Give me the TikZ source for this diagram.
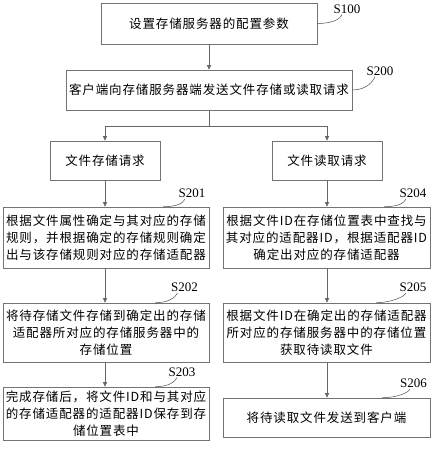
\documentclass[tikz,border=0pt]{standalone}
\usepackage{fontspec}
\setmainfont{Liberation Serif}
\newfontfamily\cjk[LetterSpace=7]{Noto Sans CJK SC}
\usetikzlibrary{arrows.meta}
\begin{document}
\begin{tikzpicture}[x=1pt,y=-1pt,
  box/.style={draw=black!55, line width=0.6pt, align=center, inner sep=0pt,
    font=\cjk\fontsize{12.5}{17}\selectfont},
  arr/.style={draw=black!60, line width=0.6pt, -{Triangle[length=4.5pt,width=4pt]}},
  plain/.style={draw=black!60, line width=0.6pt},
  lead/.style={draw=black!70, line width=0.5pt},
  lab/.style={font=\fontsize{13}{13}\selectfont, inner sep=0pt}]
\useasboundingbox (0,0) rectangle (432,450);

% boxes
\node[box, minimum width=216pt, minimum height=41pt] (s100) at (209,23.5) {设置存储服务器的配置参数};
\node[box, minimum width=286pt, minimum height=40pt] (s200) at (209,90) {客户端向存储服务器端发送文件存储或读取请求};
\node[box, minimum width=110pt, minimum height=39pt] (l1) at (105,160.5) {文件存储请求};
\node[box, minimum width=110pt, minimum height=39pt] (r1) at (327,160.5) {文件读取请求};
\node[box, minimum width=206pt, minimum height=61pt] (s201) at (106,237.5) {根据文件属性确定与其对应的存储\\规则，并根据确定的存储规则确定\\出与该存储规则对应的存储适配器};
\node[box, minimum width=207pt, minimum height=61pt] (s204) at (326.5,237.5) {根据文件ID在存储位置表中查找与\\其对应的适配器ID，根据适配器ID\\确定出对应的存储适配器};
\node[box, minimum width=206pt, minimum height=59pt] (s202) at (106,332.5) {将待存储文件存储到确定出的存储\\适配器所对应的存储服务器中的\\存储位置};
\node[box, minimum width=207pt, minimum height=59pt] (s205) at (326.5,332.5) {根据文件ID在确定出的存储适配器\\所对应的存储服务器中的存储位置\\获取待读取文件};
\node[box, minimum width=206pt, minimum height=53pt] (s203) at (106,413.5) {完成存储后，将文件ID和与其对应\\的存储适配器的适配器ID保存到存\\储位置表中};
\node[box, minimum width=207pt, minimum height=39pt] (s206) at (326.5,417.5) {将待读取文件发送到客户端};

% labels
\node[lab] (l100) at (347,9) {S100};
\node[lab] (l200) at (380,71) {S200};
\node[lab] (l201) at (192,193.5) {S201};
\node[lab] (l204) at (413,193.5) {S204};
\node[lab] (l202) at (184.5,287.5) {S202};
\node[lab] (l205) at (413,287.5) {S205};
\node[lab] (l203) at (182,372) {S203};
\node[lab] (l206) at (413.5,383.5) {S206};

% leaders
\draw[lead] (s100.east) .. controls +(14,0) and +(-2,5) .. ([xshift=-5pt,yshift=-1pt]l100.south);
\draw[lead] (s200.east) .. controls +(14,0) and +(-2,5) .. ([xshift=-5pt,yshift=-1pt]l200.south);
\draw[lead] ([xshift=-46pt]s201.north east) .. controls +(14,0) and +(-2,4) .. ([xshift=-7pt,yshift=-1pt]l201.south);
\draw[lead] ([xshift=-46pt]s204.north east) .. controls +(14,0) and +(-2,4) .. ([xshift=-7pt,yshift=-1pt]l204.south);
\draw[lead] ([xshift=-54pt]s202.north east) .. controls +(14,0) and +(-2,4) .. ([xshift=-7pt,yshift=-1pt]l202.south);
\draw[lead] ([xshift=-54pt]s205.north east) .. controls +(14,0) and +(-2,4) .. ([xshift=-7pt,yshift=-1pt]l205.south);
\draw[lead] ([xshift=-54pt]s203.north east) .. controls +(14,0) and +(-2,4) .. ([xshift=-5pt,yshift=-1pt]l203.south);
\draw[lead] ([xshift=-48pt]s206.north east) .. controls +(14,0) and +(-2,4) .. ([xshift=-3.5pt,yshift=-1pt]l206.south);

% connectors
\draw[arr] (s100) -- (s200);
\coordinate (br) at (209,126);
\draw[plain] (s200.south) -- (br);
\draw[arr] (br) -| (l1.north);
\draw[arr] (br) -| (r1.north);
\draw[arr] (l1.south) -- (l1.south |- s201.north);
\draw[arr] (l1.south |- s201.south) -- (l1.south |- s202.north);
\draw[arr] (l1.south |- s202.south) -- (l1.south |- s203.north);
\draw[arr] (r1.south) -- (r1.south |- s204.north);
\draw[arr] (r1.south |- s204.south) -- (r1.south |- s205.north);
\draw[arr] (r1.south |- s205.south) -- (r1.south |- s206.north);
\end{tikzpicture}
\end{document}
